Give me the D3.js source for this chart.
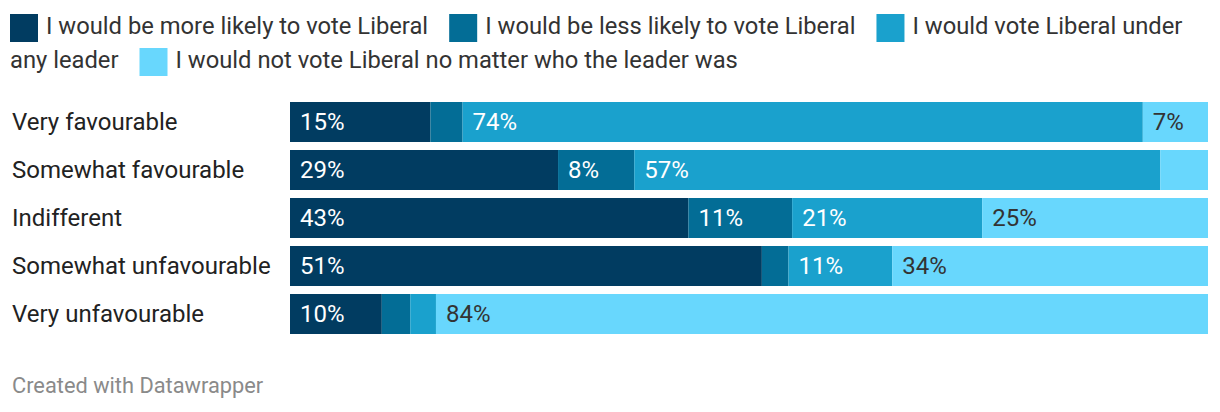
<!DOCTYPE html>
<html>
<head>
<meta charset="utf-8">
<script src="https://cdn.jsdelivr.net/npm/d3@7"></script>
<style>
  html, body { margin: 0; padding: 0; background: #fff; }
  svg { display: block; font-family: Roboto, "Noto Sans", sans-serif; }
</style>
</head>
<body>
<svg id="chart" width="1220" height="412"></svg>
<script>
// ---- data ----
const categories = ["Very favourable", "Somewhat favourable", "Indifferent", "Somewhat unfavourable", "Very unfavourable"];
const seriesNames = [
  "I would be more likely to vote Liberal",
  "I would be less likely to vote Liberal",
  "I would vote Liberal under any leader",
  "I would not vote Liberal no matter who the leader was"
];
const moreLikely   = [15.3, 29.2, 43.4, 51.4, 10.0];
const lessLikely   = [3.5, 8.3, 11.3, 2.9, 3.1];
const anyLeader    = [74.1, 57.3, 20.7, 11.3, 2.8];
const notLiberal   = [7.1, 5.2, 24.6, 34.4, 84.1];
const seriesColors = ["#013c61", "#036d96", "#1aa1cd", "#68d7fd"];
const labelColors  = ["#ffffff", "#ffffff", "#ffffff", "#333333"];
const footerText = "Created with Datawrapper";

const seriesValues = [moreLikely, lessLikely, anyLeader, notLiberal];

const svg = d3.select("#chart");

// ---- legend (word-wrapped) ----
const LFS = 23.75;
const legendG = svg.append("g");
const measure = svg.append("text").attr("font-size", LFS).attr("visibility", "hidden");
function tw(s) { measure.text(s); return measure.node().getComputedTextLength(); }
const spaceW = tw("a a") - tw("aa");
const maxX = 1210, startX = 10, lineH = 34;
let x = startX, base = 34;
seriesNames.forEach((name, i) => {
  const words = name.split(" ");
  if (x + 36 + tw(words[0]) > maxX) { x = startX; base += lineH; }
  legendG.append("rect").attr("x", x).attr("y", base - 20).attr("width", 28).attr("height", 28)
    .attr("fill", seriesColors[i]);
  x += 36;
  let seg = [], segX = x;
  const flush = () => {
    if (seg.length) legendG.append("text").attr("x", segX).attr("y", base)
      .attr("font-size", LFS).attr("fill", "#333").text(seg.join(" "));
  };
  words.forEach(w => {
    const ww = tw(w);
    if (x + ww > maxX) { flush(); seg = []; x = startX; base += lineH; segX = x; }
    seg.push(w); x += ww + spaceW;
  });
  flush();
  x = x - spaceW + 21;
});
measure.remove();

// ---- scales ----
const xScale = d3.scaleLinear().domain([0, 100]).range([290, 1208]);
const yScale = d3.scaleBand().domain(categories).range([98, 338]).paddingInner(1/6).paddingOuter(1/12);

// ---- stacked data ----
const rows = categories.map((c, r) => {
  const o = { category: c };
  seriesNames.forEach((s, i) => o[s] = seriesValues[i][r]);
  return o;
});
const stacked = d3.stack().keys(seriesNames)(rows);

// ---- row labels ----
svg.append("g").selectAll("text").data(categories).join("text")
  .attr("x", 12)
  .attr("y", d => yScale(d) + yScale.bandwidth() / 2 + 8)
  .attr("font-size", 24).attr("fill", "#222")
  .text(d => d);

// ---- bars ----
const fmt = d => d3.format(".0f")(d) + "%";
stacked.forEach((layer, i) => {
  const g = svg.append("g");
  g.selectAll("rect").data(layer).join("rect")
    .attr("x", d => xScale(d[0]))
    .attr("y", d => yScale(d.data.category))
    .attr("width", d => xScale(d[1]) - xScale(d[0]))
    .attr("height", yScale.bandwidth())
    .attr("fill", seriesColors[i]);
  g.selectAll("text").data(layer).join("text")
    .attr("x", d => xScale(d[0]) + 10)
    .attr("y", d => yScale(d.data.category) + yScale.bandwidth() / 2 + 8)
    .attr("font-size", 24).attr("fill", labelColors[i])
    .text(d => fmt(d[1] - d[0]))
    .each(function(d) {
      const w = this.getComputedTextLength();
      if (w + 20 > xScale(d[1]) - xScale(d[0])) d3.select(this).remove();
    });
});

// ---- footer ----
svg.append("text").attr("x", 12).attr("y", 393).attr("font-size", 21.8).attr("fill", "#8a8a8a").text(footerText);
</script>
</body>
</html>
